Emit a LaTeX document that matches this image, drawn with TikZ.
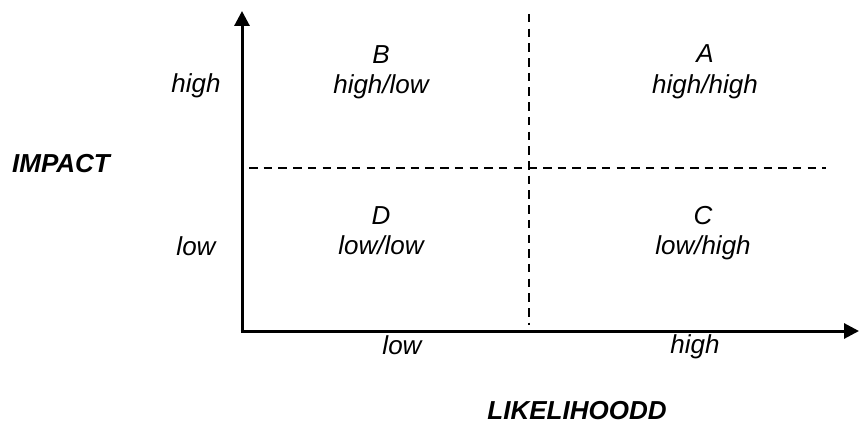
\documentclass[tikz,border=0pt]{standalone}
\usepackage{fontspec}
\setmainfont{Liberation Sans}
\usepackage{tikz}
\usetikzlibrary{arrows.meta,positioning}

\begin{document}
\begin{tikzpicture}[
        x=1pt, y=-1pt,
        font=\fontsize{26}{30.5}\selectfont\itshape,
        lbl/.style={align=center, inner sep=0pt},
        title/.style={lbl, font=\fontsize{26}{30.5}\selectfont\bfseries\itshape},
        axis/.style={-{Triangle[length=15pt,width=15pt]}, line width=3pt},
        grid/.style={line width=2pt, dash pattern=on 8.5pt off 6.2pt}
    ]
        \useasboundingbox (0,0) rectangle (859,425);
        % axes
        \coordinate (o) at (242,331);
        \coordinate (ytop) at (242,11);
        \coordinate (xend) at (859,331);
        \draw[axis] ([yshift=-1.5pt]o) -- (ytop);
        \draw[axis] ([xshift=-1.5pt]o) -- (xend);
        % quadrant borders
        \coordinate (vtop) at (529,14);
        \coordinate (vbot) at (529,325);
        \coordinate (hleft) at (249,167.5);
        \coordinate (hright) at (826,167.5);
        \draw[grid] (vtop) -- (vbot);
        \draw[grid] (hleft) -- (hright);
        % quadrants
        \node[lbl] (qb) at (381,72.5) {B\\high/low};
        \node[lbl] (qa) at (705,72) {A\\high/high};
        \node[lbl] (qd) at (381,230.5) {D\\low/low};
        \node[lbl] (qc) at (703,233) {C\\low/high};
        % axis labels
        \node[lbl] (yhigh) at (196,86) {high};
        \node[lbl] (ylow) at (196,246.5) {low};
        \node[lbl] (xlow) at (402,345) {low};
        \node[lbl] (xhigh) at (695,347) {high};
        \node[title] (impact) at (61,164) {IMPACT};
        \node[title] (likely) at (577,410.5) {LIKELIHOODD};
    \end{tikzpicture}
\end{document}
